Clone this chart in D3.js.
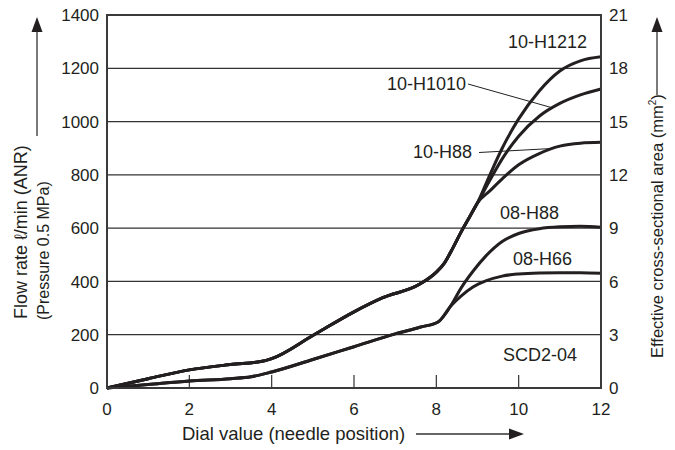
<!DOCTYPE html>
<html>
<head>
<meta charset="utf-8">
<script src="https://cdn.jsdelivr.net/npm/d3@7"></script>
<style>
  html, body { margin: 0; padding: 0; background: #fff; }
  svg { display: block; }
  text { font-family: "Liberation Sans", Arial, sans-serif; fill: #231f20; }
</style>
</head>
<body>
<svg id="chart" width="675" height="450"></svg>
<script>
// ---- data ----
const xTicks = [0, 2, 4, 6, 8, 10, 12];
const yTicks = [0, 200, 400, 600, 800, 1000, 1200, 1400];
const y2Ticks = [0, 3, 6, 9, 12, 15, 18, 21];

// common part of the 10-series curves
const base10X = [0, 1, 2, 3, 3.8, 4.0, 5, 6, 6.7, 7.6, 8.0, 8.2, 8.4, 8.6, 8.8, 9.0];
const base10Y = [0, 35, 68, 88, 101, 110, 197, 286, 339, 390, 435, 470, 525, 585, 640, 695];
const tail10X = [9.3, 9.6, 10.0, 10.5, 11.0, 11.5, 12];
const h1212Y = [800, 900, 1010, 1115, 1190, 1228, 1243];
const h1010Y = [780, 860, 945, 1020, 1068, 1100, 1122];
const h88_10Y = [740, 785, 838, 880, 908, 919, 922];

// common part of the 08-series curves
const base08X = [0, 1, 2, 3, 3.5, 4, 5, 6, 7, 7.6, 8.05, 8.35];
const base08Y = [0, 13, 26, 35, 42, 60, 107, 155, 203, 228, 249, 308];
const tail08X = [8.6, 8.9, 9.2, 9.6, 10.0, 10.5, 11.0, 11.5, 12];
const h88_08Y = [375, 440, 495, 550, 580, 598, 605, 607, 603];
const h66_08Y = [345, 380, 402, 420, 428, 432, 433, 433, 431];

const seriesNames = ["10-H1212", "10-H1010", "10-H88", "08-H88", "08-H66"];

// ---- layout ----
const svg = d3.select("#chart");
const L = 107, R = 601, T = 15, B = 388;
const x = d3.scaleLinear().domain([0, 12]).range([L, R]);
const y = d3.scaleLinear().domain([0, 1400]).range([B, T]);
const y2 = d3.scaleLinear().domain([0, 21]).range([B, T]);

const ink = "#231f20";

// gridlines
svg.append("g").selectAll("line").data(yTicks.filter(d => d > 0 && d < 1400)).join("line")
  .attr("x1", L).attr("x2", R)
  .attr("y1", d => y(d)).attr("y2", d => y(d))
  .attr("stroke", "#333").attr("stroke-width", 1.2);

// bottom inner ticks
svg.append("g").selectAll("line").data(xTicks.filter(d => d > 0 && d < 12)).join("line")
  .attr("x1", d => x(d)).attr("x2", d => x(d))
  .attr("y1", B).attr("y2", B - 13)
  .attr("stroke", "#333").attr("stroke-width", 1.2);

// curves
const line = d3.line().x(d => x(d[0])).y(d => y(d[1])).curve(d3.curveMonotoneX);
const zip = (xs, ys) => xs.map((v, i) => [v, ys[i]]);
const s10 = [h1212Y, h1010Y, h88_10Y].map(t => zip(base10X, base10Y).concat(zip(tail10X, t)));
const s08 = [h88_08Y, h66_08Y].map(t => zip(base08X, base08Y).concat(zip(tail08X, t)));
const allSeries = s10.concat(s08);

svg.append("g").selectAll("path").data(allSeries).join("path")
  .attr("d", line)
  .attr("fill", "none")
  .attr("stroke", ink)
  .attr("stroke-width", 3)
  .attr("stroke-linejoin", "round");

// frame
svg.append("rect").attr("x", L).attr("y", T).attr("width", R - L).attr("height", B - T)
  .attr("fill", "none").attr("stroke", "#3a3a3a").attr("stroke-width", 2);

// left axis labels
svg.append("g").selectAll("text").data(yTicks).join("text")
  .attr("x", L - 8).attr("y", d => y(d)).attr("dy", "0.36em")
  .attr("text-anchor", "end").attr("font-size", 17).text(d => d);

// right axis labels
svg.append("g").selectAll("text").data(y2Ticks).join("text")
  .attr("x", R + 8).attr("y", d => y2(d)).attr("dy", "0.36em")
  .attr("text-anchor", "start").attr("font-size", 17).text(d => d);

// bottom axis labels
svg.append("g").selectAll("text").data(xTicks).join("text")
  .attr("x", d => x(d)).attr("y", 415)
  .attr("text-anchor", "middle").attr("font-size", 17).text(d => d);

// axis titles
svg.append("text").attr("transform", "translate(27,319) rotate(-90)")
  .attr("font-size", 18).text("Flow rate ℓ/min (ANR)");
svg.append("text").attr("transform", "translate(49,320) rotate(-90)")
  .attr("font-size", 16).text("(Pressure 0.5 MPa)");
const rt = svg.append("text").attr("transform", "translate(663,358) rotate(-90)")
  .attr("font-size", 16.5);
rt.append("tspan").text("Effective cross-sectional area (mm");
rt.append("tspan").attr("font-size", 10).attr("dy", -7).text("2");
rt.append("tspan").attr("dy", 7).text(")");
svg.append("text").attr("x", 182).attr("y", 440).attr("font-size", 18.5)
  .text("Dial value (needle position)");

// arrows
function arrow(x1, y1, x2, y2) {
  const ang = Math.atan2(y2 - y1, x2 - x1);
  const len = 15, hw = 5.5;
  const bx = x2 - len * Math.cos(ang), by = y2 - len * Math.sin(ang);
  svg.append("line").attr("x1", x1).attr("y1", y1).attr("x2", bx).attr("y2", by)
    .attr("stroke", "#333").attr("stroke-width", 1.3);
  const px = -Math.sin(ang) * hw, py = Math.cos(ang) * hw;
  svg.append("path")
    .attr("d", `M${x2},${y2}L${bx + px},${by + py}L${bx - px},${by - py}Z`)
    .attr("fill", ink);
}
arrow(37, 136, 37, 17);
arrow(657, 95, 657, 17);
arrow(416, 434, 524, 434);

// series labels
const labelPos = [[508, 48], [387, 90], [413, 158], [500, 219], [513, 265]];
svg.append("g").selectAll("text").data(seriesNames).join("text")
  .attr("x", (d, i) => labelPos[i][0]).attr("y", (d, i) => labelPos[i][1])
  .attr("font-size", 18).text(d => d);

// leader lines
svg.append("line").attr("x1", 468).attr("y1", 84).attr("x2", 553).attr("y2", 108)
  .attr("stroke", ink).attr("stroke-width", 1);
svg.append("line").attr("x1", 479).attr("y1", 152.5).attr("x2", 552).attr("y2", 148.5)
  .attr("stroke", ink).attr("stroke-width", 1);

svg.append("text").attr("x", 503).attr("y", 361).attr("font-size", 18).text("SCD2-04");
</script>
</body>
</html>
